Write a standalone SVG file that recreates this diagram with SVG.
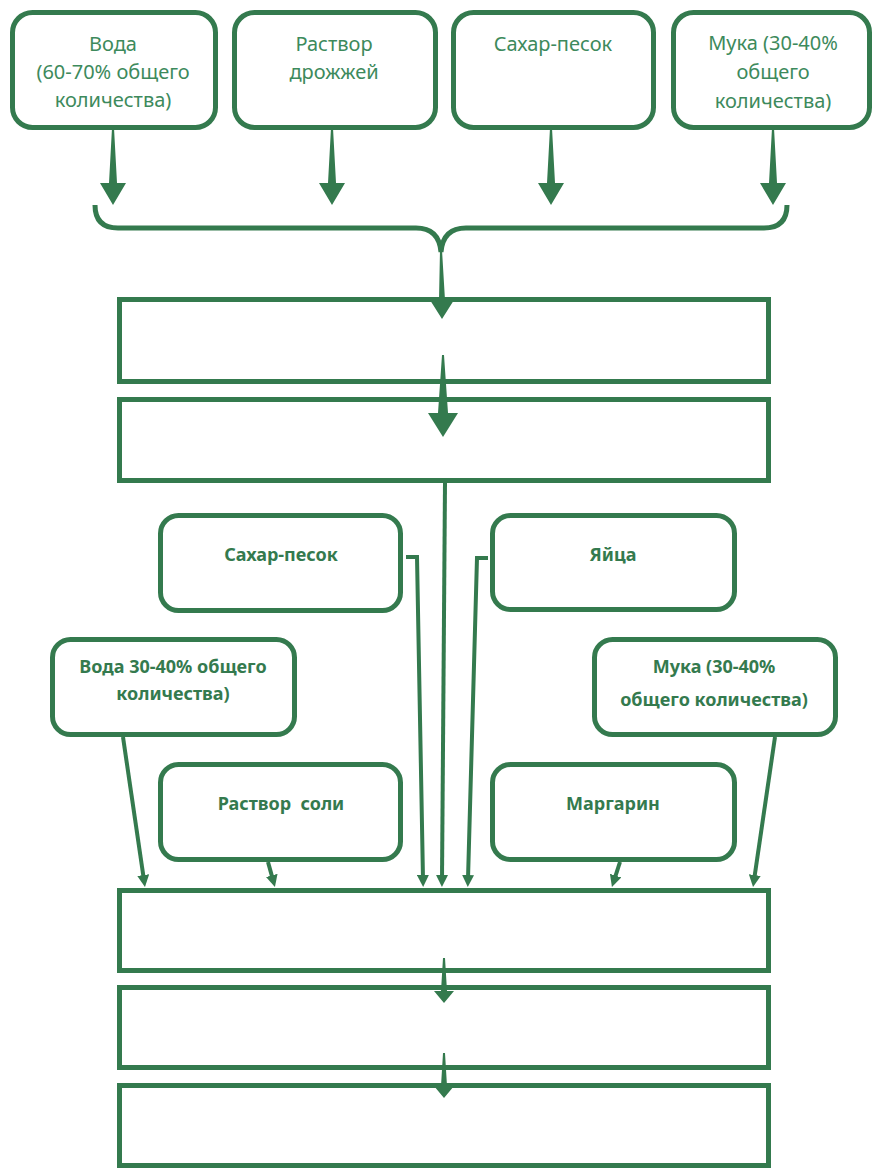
<svg xmlns="http://www.w3.org/2000/svg" width="874" height="1168" viewBox="0 0 874 1168">
<style>
.rb{fill:#fff;stroke:#347a4e;stroke-width:5}
.bx{fill:#fff;stroke:#347a4e;stroke-width:5}
.t{font-family:"Noto Sans","Liberation Sans",sans-serif;font-size:20px;fill:#3d8a5c;text-anchor:middle}
.tb{font-family:"Noto Sans","Liberation Sans",sans-serif;font-size:18px;font-weight:bold;fill:#347a4e;text-anchor:middle;white-space:pre}
.ln{fill:none;stroke:#347a4e;stroke-width:4}
.ar{fill:#347a4e}
</style>
<defs>
<marker id="mh" viewBox="0 0 12 12" refX="4" refY="6" markerWidth="12" markerHeight="12" markerUnits="userSpaceOnUse" orient="auto">
<path d="M0,0 L12,6 L0,12 Z" fill="#347a4e"/>
</marker>
<path id="bigArrow" d="M-1,-77 L1,-77 L4,-22 L13,-22 L0,0 L-13,-22 L-4,-22 Z"/>
</defs>

<g id="top-voda"><rect class="rb" x="12.5" y="12.5" width="203" height="115" rx="20"/>
<text class="t" x="113" y="51">Вода</text><text class="t" x="113" y="79">(60-70% общего</text><text class="t" x="113" y="107">количества)</text></g>
<g id="top-drozhzhi"><rect class="rb" x="234.5" y="12.5" width="201" height="115" rx="20"/>
<text class="t" x="334" y="51">Раствор</text><text class="t" x="334" y="79">дрожжей</text></g>
<g id="top-sahar"><rect class="rb" x="453.5" y="12.5" width="200" height="115" rx="20"/>
<text class="t" x="553" y="51">Сахар-песок</text></g>
<g id="top-muka"><rect class="rb" x="673.5" y="12.5" width="196" height="115" rx="20"/>
<text class="t" x="773" y="50">Мука (30-40%</text><text class="t" x="773" y="79">общего</text><text class="t" x="773" y="108">количества)</text></g>

<g id="box-a"><rect class="bx" x="119.5" y="299.5" width="649" height="82"/></g>
<g id="box-b"><rect class="bx" x="119.5" y="399.5" width="649" height="81"/></g>

<g id="mid-sahar"><rect class="rb" x="160.5" y="515.5" width="240" height="95" rx="18"/>
<text class="tb" x="281" y="561">Сахар-песок</text></g>
<g id="mid-voda"><rect class="rb" x="52.5" y="639.5" width="242" height="95" rx="18"/>
<text class="tb" x="173" y="673">Вода 30-40% общего</text><text class="tb" x="173" y="700">количества)</text></g>
<g id="mid-sol"><rect class="rb" x="160.5" y="764.5" width="240" height="95" rx="18"/>
<text class="tb" x="281" y="810" xml:space="preserve">Раствор  соли</text></g>
<g id="mid-yaitsa"><rect class="rb" x="492.5" y="515.5" width="242" height="94" rx="18"/>
<text class="tb" x="613" y="561">Яйца</text></g>
<g id="mid-muka"><rect class="rb" x="594.5" y="639.5" width="241" height="95" rx="18"/>
<text class="tb" x="714" y="673">Мука (30-40%</text><text class="tb" x="714" y="706">общего количества)</text></g>
<g id="mid-margarin"><rect class="rb" x="492.5" y="764.5" width="242" height="95" rx="18"/>
<text class="tb" x="613" y="810">Маргарин</text></g>

<g id="box-c"><rect class="bx" x="119.5" y="890.5" width="649" height="80"/></g>
<g id="box-d"><rect class="bx" x="119.5" y="987.5" width="649" height="80"/></g>
<g id="box-e"><rect class="bx" x="119.5" y="1085.5" width="649" height="80"/></g>

<g id="connectors">
<use href="#bigArrow" class="ar" transform="translate(113,205)"/>
<use href="#bigArrow" class="ar" transform="translate(332,205)"/>
<use href="#bigArrow" class="ar" transform="translate(551,205)"/>
<use href="#bigArrow" class="ar" transform="translate(773,205)"/>
<path class="ln" style="stroke-width:5" d="M95,205 Q95,228 118,228 L416,228 Q439,228 441,252 Q443,228 466,228 L764,228 Q787,228 787,205"/>
<path class="ar" d="M440,250 L442,250 L445,300 L454,300 L442,319 L430,300 L439,300 Z"/>
<path class="ar" d="M442,355 L444,355 L448,413 L458,413 L443,437 L428,413 L438,413 Z"/>
<path class="ar" d="M443,958 L445,958 L447,991 L454,991 L444,1003 L434,991 L441,991 Z"/>
<path class="ar" d="M443,1053 L445,1053 L447,1086 L454,1086 L444,1098 L434,1086 L441,1086 Z"/>
<polyline class="ln" points="445,483 442,879" marker-end="url(#mh)"/>
<polyline class="ln" points="406,557 417,557 423,879" marker-end="url(#mh)"/>
<polyline class="ln" points="488,558 477,558 468,879" marker-end="url(#mh)"/>
<polyline class="ln" points="123,737 143.8,879" marker-end="url(#mh)"/>
<polyline class="ln" points="268,862 272.8,879.3" marker-end="url(#mh)"/>
<polyline class="ln" points="620,862 614.4,879.4" marker-end="url(#mh)"/>
<polyline class="ln" points="775,737 754.2,879" marker-end="url(#mh)"/>
</g>
</svg>
